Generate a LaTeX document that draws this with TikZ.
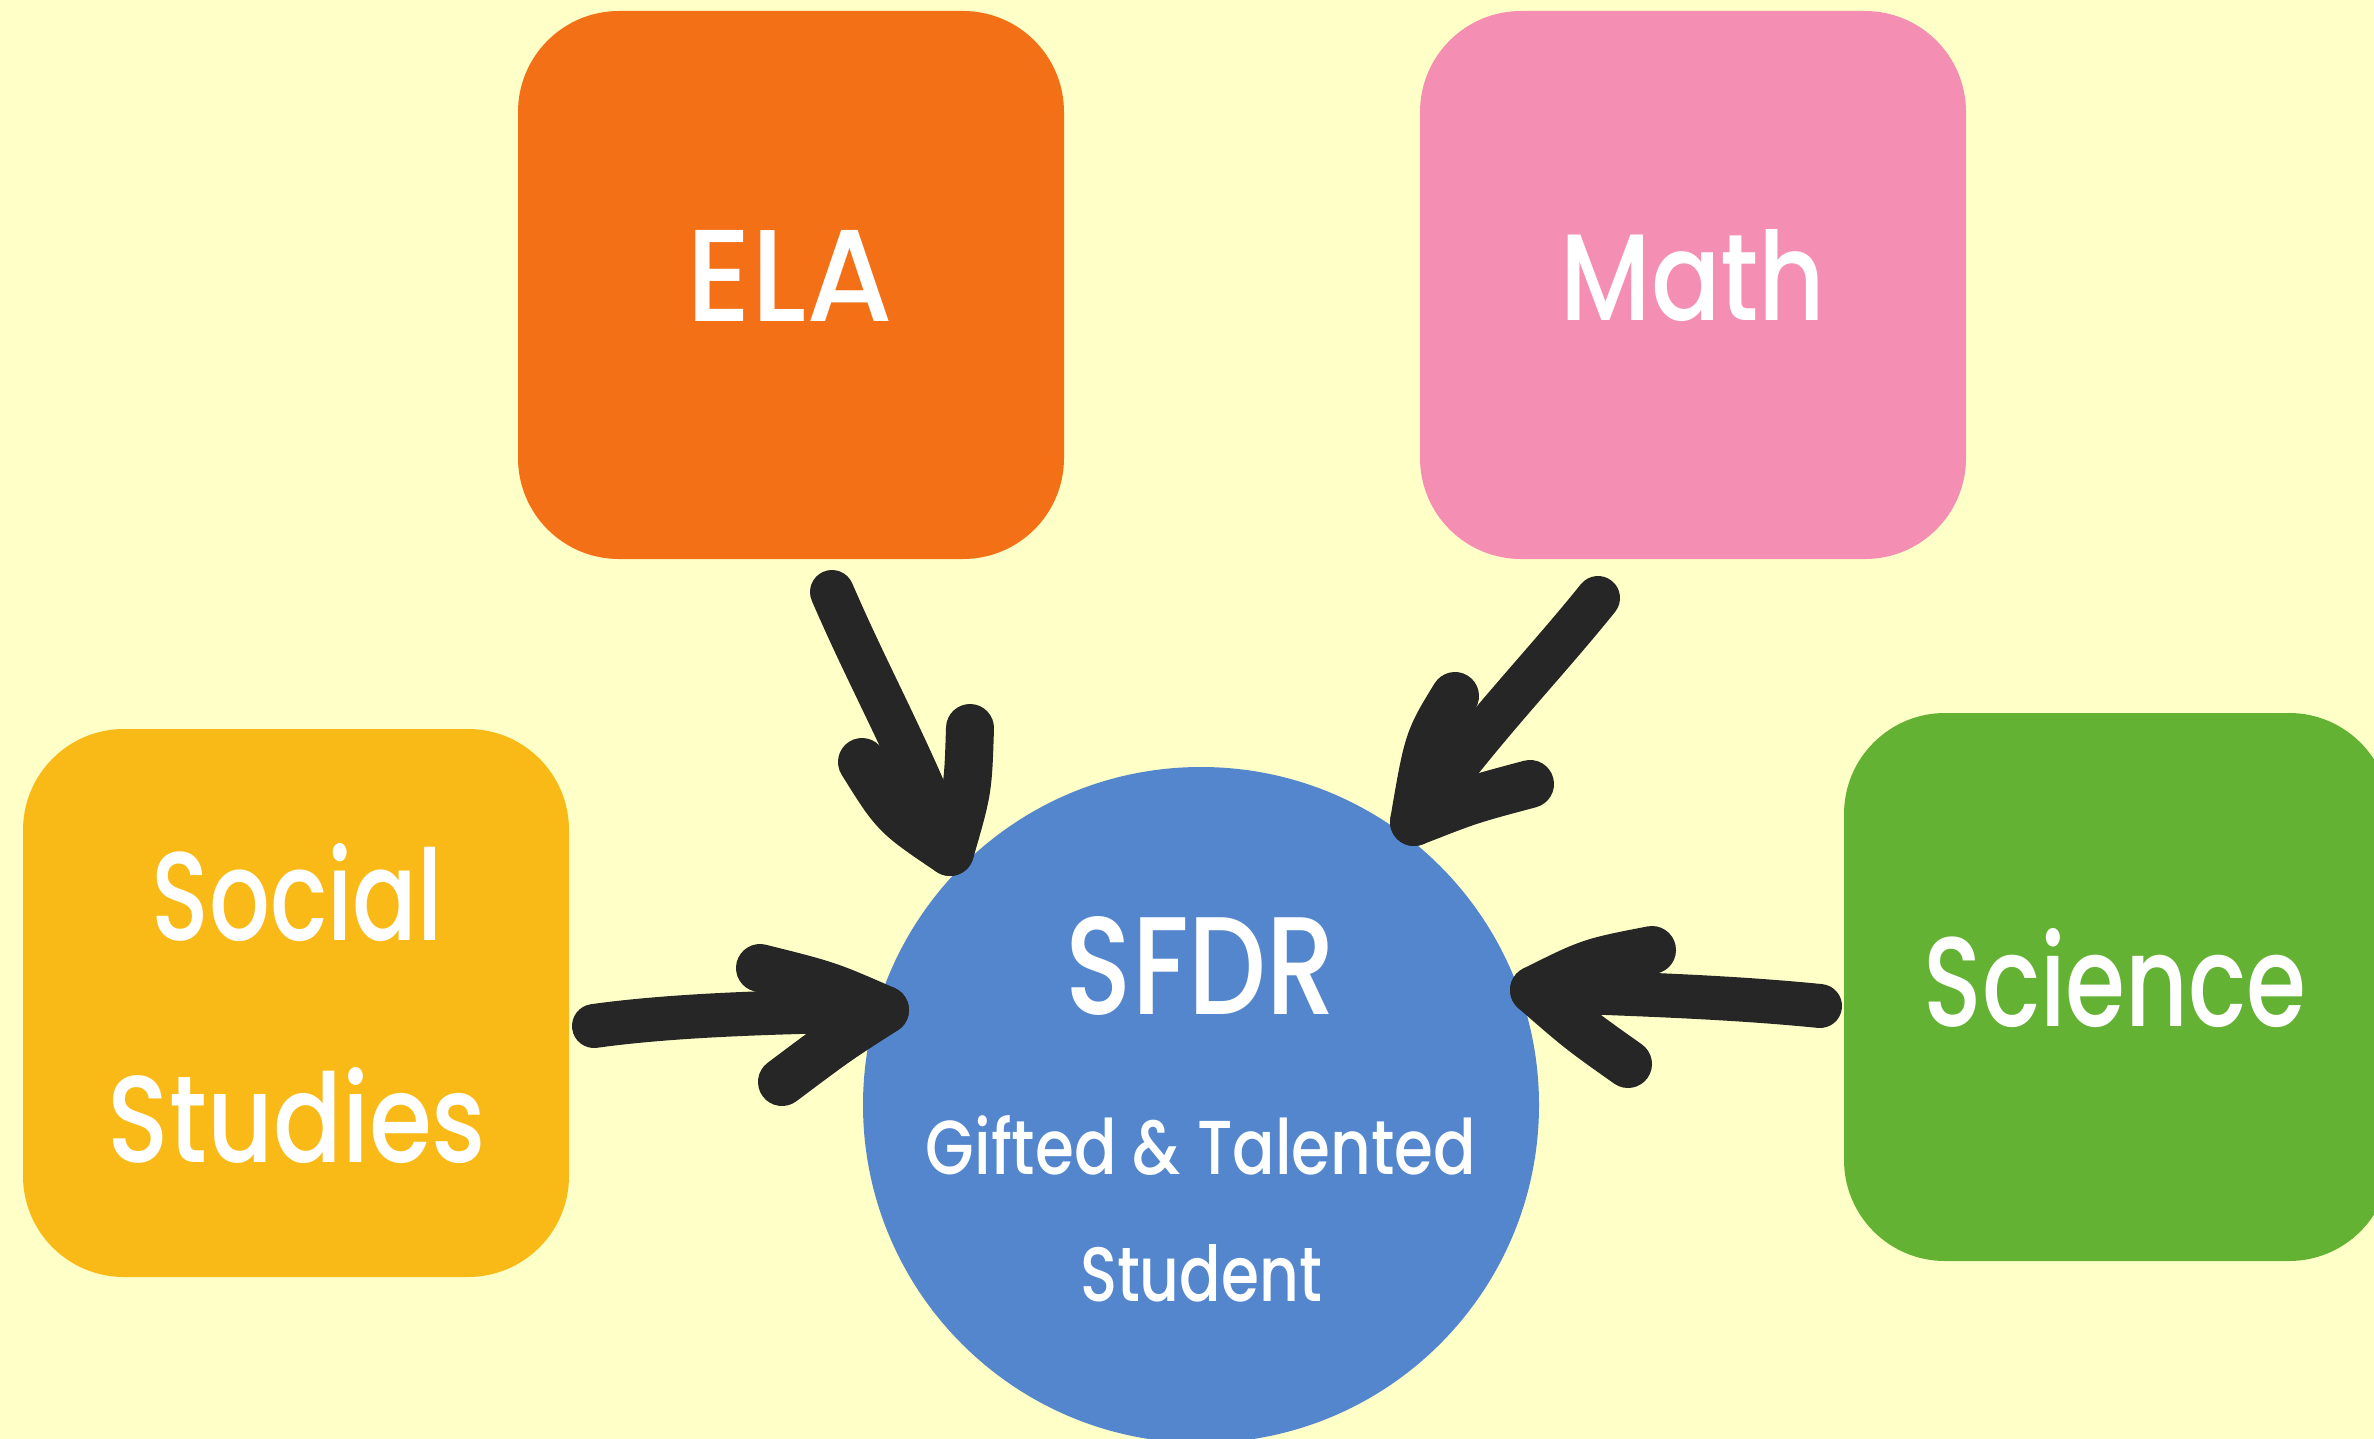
\documentclass[tikz,border=0pt]{standalone}
\usepackage{fontspec}
\setmainfont{Poppins}
\newfontfamily\medfont{Poppins Medium}
\usepackage{graphicx}
\definecolor{bgc}{HTML}{FFFFC8}
\definecolor{elac}{HTML}{F37017}
\definecolor{mathc}{HTML}{F48FB3}
\definecolor{socc}{HTML}{F9BA18}
\definecolor{scic}{HTML}{63B233}
\definecolor{bluec}{HTML}{5386CC}
\definecolor{arrc}{HTML}{262626}
\begin{document}
\begin{tikzpicture}[x=1pt,y=-1pt,
  subjbox/.style={rectangle, rounded corners=101pt, minimum width=546pt, minimum height=548pt, inner sep=0pt},
  lbl/.style={text=white, inner sep=0pt, anchor=center, font=\medfont},
  harrow/.style={draw=arrc, line width=44pt, line cap=round, line join=round},
  hbarb/.style={draw=arrc, line width=48pt, line cap=round, line join=round}]
\useasboundingbox (0,0) rectangle (2374,1439);
\fill[bgc] (0,0) rectangle (2374,1439);
% boxes
\node[subjbox, fill=elac] (ela) at (791,285) {};
\node[subjbox, fill=mathc] (math) at (1693,285) {};
\node[subjbox, fill=socc] (soc) at (296,1003) {};
\node[subjbox, fill=scic] (sci) at (2117,987) {};
\node[circle, fill=bluec, minimum size=676pt, inner sep=0pt] (ctr) at (1201,1105) {};
% labels
\node[lbl] (elat) at (790,276) {\resizebox{207pt}{91pt}{ELA}};
\node[lbl] (matht) at (1693,276) {\resizebox{265pt}{91pt}{Math}};
\node[lbl] (soct1) at (297,893) {\resizebox{291pt}{97pt}{Social}};
\node[lbl] (soct2) at (297,1116) {\resizebox{378pt}{95pt}{Studies}};
\node[lbl] (scit) at (2115,978) {\resizebox{383pt}{98pt}{Science}};
\node[lbl] (ctrt1) at (1201,966) {\resizebox{270pt}{98pt}{SFDR}};
\node[lbl] (ctrt2) at (1201,1145) {\resizebox{550pt}{59pt}{Gifted \& Talented}};
\node[lbl] (ctrt3) at (1201,1273) {\resizebox{242pt}{57pt}{Student}};
% arrow coordinates
\coordinate (elaS) at (832,592);
\coordinate (elaT) at (950,852);
\coordinate (elaL) at (862,762);
\coordinate (elaR) at (970,728);
\coordinate (mathS) at (1598,598);
\coordinate (mathT) at (1414,822);
\coordinate (mathL) at (1455,696);
\coordinate (mathR) at (1530,784);
\coordinate (sciS) at (1820,1006);
\coordinate (sciT) at (1534,990);
\coordinate (sciU) at (1652,950);
\coordinate (sciD) at (1628,1064);
\coordinate (socS) at (594,1026);
\coordinate (socT) at (885,1010);
\coordinate (socU) at (760,968);
\coordinate (socD) at (782,1082);
% arrows
\draw[harrow] (elaS) .. controls (870,680) and (905,740) .. (elaT);
\draw[hbarb] (elaL) .. controls (895,815) .. (elaT);
\draw[hbarb] (elaR) .. controls (968,790) .. (elaT);
\draw[harrow] (mathS) .. controls (1540,670) and (1480,730) .. (mathT);
\draw[hbarb] (mathL) .. controls (1428,740) .. (mathT);
\draw[hbarb] (mathR) .. controls (1470,800) .. (mathT);
\draw[harrow] (sciS) .. controls (1720,996) and (1620,994) .. (sciT);
\draw[hbarb] (sciU) .. controls (1590,962) .. (sciT);
\draw[hbarb] (sciD) .. controls (1580,1030) .. (sciT);
\draw[harrow] (socS) .. controls (680,1014) and (790,1012) .. (socT);
\draw[hbarb] (socU) .. controls (828,985) .. (socT);
\draw[hbarb] (socD) .. controls (838,1040) .. (socT);
\end{tikzpicture}
\end{document}
